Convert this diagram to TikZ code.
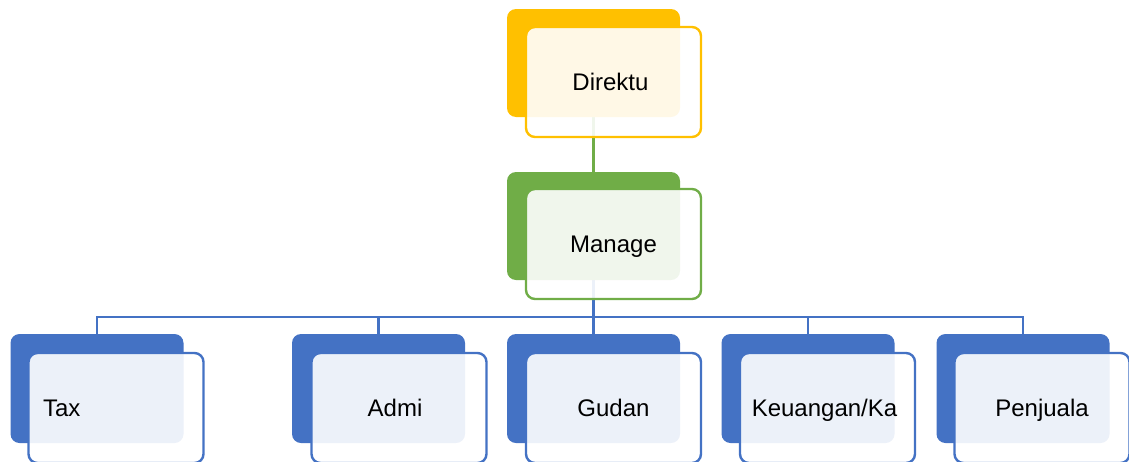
\documentclass[tikz,border=0pt]{standalone}
\usepackage{fontspec}
\setmainfont{Liberation Sans}
\definecolor{cOrange}{HTML}{FFC000}
\definecolor{cGreen}{HTML}{70AD47}
\definecolor{cBlue}{HTML}{4472C4}
\begin{document}
\begin{tikzpicture}[x=1pt,y=-1pt,
  backbox/.style={fill=#1, rounded corners=9pt, minimum width=173pt, minimum height=108pt, inner sep=0pt},
  frontbox/.style={draw=#1, fill=white, fill opacity=0.9, text opacity=1, line width=2.4pt, rounded corners=9pt, minimum width=175pt, minimum height=110pt, inner sep=0pt, text height=17pt, text depth=1pt, font=\fontsize{24}{28}\selectfont},
  conn/.style={draw=#1, line width=2.4pt}]
\useasboundingbox (0,0) rectangle (1129,461);
\clip (0,0) rectangle (1129,461);
% connectors (drawn first, behind boxes)
\coordinate (dirbS) at (593.5,117);
\coordinate (mgrbN) at (593.5,172);
\coordinate (mgrbS) at (593.5,280);
\coordinate (bus) at (593.5,317);
\draw[conn=cGreen] (dirbS) -- (mgrbN);
\draw[conn=cBlue] (mgrbS) -- (bus);
\coordinate (taxN) at (97,334);
\coordinate (admN) at (378.5,334);
\coordinate (gudN) at (593.5,334);
\coordinate (keuN) at (808,334);
\coordinate (penN) at (1023,334);
\draw[conn=cBlue] (bus) -| (taxN);
\draw[conn=cBlue] (bus) -| (admN);
\draw[conn=cBlue] (bus) -- (gudN);
\draw[conn=cBlue] (bus) -| (keuN);
\draw[conn=cBlue] (bus) -| (penN);
% Direktur
\node[backbox=cOrange] (dirb) at (593.5,63) {};
\node[frontbox=cOrange] (dir) at (613.5,82) {\hspace*{-6pt}Direktu};
% Manager
\node[backbox=cGreen] (mgrb) at (593.5,226) {};
\node[frontbox=cGreen] (mgr) at (613.5,244) {Manage};
% bottom row
\node[backbox=cBlue, minimum height=109pt] (taxb) at (97,388.5) {};
\node[frontbox=cBlue, text width=146pt, align=left] (tax) at (116,408) {Tax};
\node[backbox=cBlue, minimum height=109pt] (admb) at (378.5,388.5) {};
\node[frontbox=cBlue] (adm) at (399,408) {\hspace*{-8pt}Admi};
\node[backbox=cBlue, minimum height=109pt] (gudb) at (593.5,388.5) {};
\node[frontbox=cBlue] (gud) at (613.5,408) {Gudan};
\node[backbox=cBlue, minimum height=109pt] (keub) at (808,388.5) {};
\node[frontbox=cBlue] (keu) at (827.5,408) {\hspace*{-6pt}Keuangan/Ka};
\node[backbox=cBlue, minimum height=109pt] (penb) at (1023,388.5) {};
\node[frontbox=cBlue] (pen) at (1042,408) {Penjuala};
\end{tikzpicture}
\end{document}
